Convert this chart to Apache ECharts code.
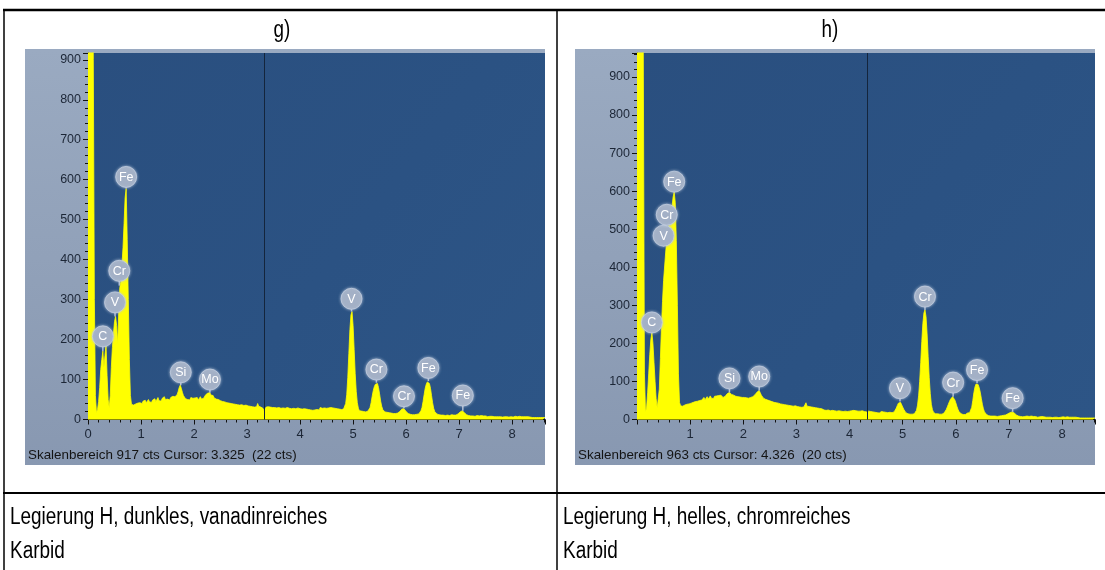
<!DOCTYPE html>
<html>
<head>
<meta charset="utf-8">
<title>EDX-Spektren Legierung H</title>
<script src="https://cdn.jsdelivr.net/npm/echarts@6/dist/echarts.min.js"></script>
<style>
  html, body { margin: 0; padding: 0; background: #ffffff; }
  #chart { width: 1105px; height: 570px; }
</style>
</head>
<body>
<div id="chart"></div>
<script>
// ---- Spectrum data: counts per 0.02 keV channel, one row per 0.5 keV ----
const channelKeV = 0.02;

// g) dark, vanadium-rich carbide
const countsG = [
  3000,3000,3000,3000,2000,900,300,60,17,25,45,80,125,150,171,130,160,187,110,50,30,60,130,180,215,
  245,258,235,188,270,330,345,385,430,490,555,578,450,300,150,60,38,33,36,34,39,37,41,38,42,
  44,40,46,43,48,42,45,50,44,47,43,49,46,52,45,48,55,47,51,46,53,49,57,50,54,
  51,56,49,55,52,58,53,57,55,62,70,80,86,78,68,60,56,52,57,50,54,49,55,51,53,
  48,54,50,55,49,52,57,51,55,53,58,62,60,66,64,67,61,58,60,54,57,51,55,50,52,
  47,50,45,48,44,47,42,45,41,44,40,43,39,42,38,41,37,40,36,41,37,39,35,38,36,
  37,34,38,33,36,32,35,31,36,32,40,33,37,31,35,28,22,27,31,28,32,29,31,28,30,
  27,30,26,29,27,30,26,28,25,29,26,28,25,30,26,28,25,27,24,28,25,27,24,29,25,
  27,24,26,23,27,24,26,23,25,28,24,26,23,27,24,29,25,27,24,30,26,28,25,29,26,
  28,25,29,26,30,27,29,26,28,25,27,24,26,23,25,24,26,30,40,62,105,165,225,262,270,
  235,175,115,70,42,28,22,19,21,18,20,17,19,18,21,22,30,42,58,72,82,88,92,90,80,
  64,46,33,25,21,19,17,18,15,17,14,16,14,15,13,15,14,16,17,20,24,26,28,27,24,
  20,17,15,14,13,14,12,13,12,14,13,15,14,18,22,30,45,62,78,88,94,96,90,78,60,
  42,28,20,16,14,13,12,13,11,12,11,12,10,12,11,12,10,11,12,10,11,12,11,13,14,
  16,19,21,22,20,17,14,12,11,10,11,9,10,9,10,8,9,10,8,9,8,10,8,9,8,
  9,8,7,9,8,7,8,9,7,8,7,9,7,8,7,8,6,8,7,9,7,8,6,8,7,
  8,6,7,8,6,7,6,8,6,7,6,7,5,7,6,7,5,6,7,5,6,5,7,5,6,
  5,6,5,6,5,6,5
];

// h) bright, chromium-rich carbide
const countsH = [
  3000,3000,3000,3000,3000,2000,900,120,20,30,70,120,170,210,228,200,150,100,55,30,35,80,160,240,310,
  365,370,440,472,455,515,505,530,560,585,598,570,470,300,120,45,36,38,35,40,38,42,40,44,41,
  46,43,48,45,50,47,52,48,53,50,55,51,54,58,52,56,60,54,57,62,56,60,55,61,58,
  62,57,63,59,64,60,58,63,61,66,68,70,71,69,66,62,64,59,61,57,60,56,59,55,58,
  54,58,53,57,52,56,54,58,55,60,62,65,68,72,75,76,70,64,60,56,58,53,55,51,53,
  49,52,47,50,45,48,44,47,43,45,41,44,40,43,39,42,38,41,37,40,36,39,35,38,36,
  37,34,36,33,35,32,36,33,38,44,35,32,34,31,33,30,32,29,31,28,30,27,29,26,28,
  27,25,28,24,27,25,26,23,26,24,27,23,25,22,25,23,26,22,24,21,24,22,25,21,23,
  22,20,23,21,24,21,23,20,22,19,22,20,23,19,21,22,20,20,22,19,21,18,20,22,19,
  21,18,20,17,19,21,18,20,17,19,16,18,17,19,16,18,17,20,24,30,37,43,47,45,40,
  33,27,22,18,16,15,16,14,15,14,16,15,18,24,38,62,100,150,205,252,280,288,270,225,165,
  110,68,40,26,19,16,15,14,15,13,14,13,14,15,17,20,26,33,40,47,53,57,60,58,52,
  44,35,27,21,17,15,14,13,14,13,15,17,16,18,20,32,50,70,85,93,95,92,84,72,56,
  40,28,20,15,13,11,10,11,9,10,9,11,9,10,8,10,9,11,10,12,11,13,12,14,15,
  16,18,19,20,19,17,14,12,10,9,10,8,9,7,9,8,7,9,7,8,7,9,7,8,6,
  8,7,6,8,7,6,8,6,7,9,6,7,6,8,6,7,5,7,6,8,6,7,5,7,6,
  6,7,5,6,5,7,5,6,5,6,4,6,5,6,4,5,6,4,5,4,6,4,5,4,5,
  4,5,4,5,4,5,4
];

// Element markers: [element, energy keV, marker height cts, peak top cts]
const peaksG = [
  ['C', 0.28, 208, 171], ['V', 0.51, 293, 258], ['Cr', 0.59, 372, 335], ['Fe', 0.72, 607, 578],
  ['Si', 1.75, 118, 86], ['Mo', 2.30, 100, 67],
  ['V', 4.97, 302, 270], ['Cr', 5.44, 125, 92], ['Cr', 5.96, 58, 28],
  ['Fe', 6.42, 129, 96], ['Fe', 7.07, 60, 22]
];
const peaksH = [
  ['C', 0.28, 255, 228], ['V', 0.50, 483, 455], ['Cr', 0.56, 538, 515], ['Fe', 0.70, 625, 598],
  ['Si', 1.74, 108, 71], ['Mo', 2.30, 113, 76],
  ['V', 4.95, 82, 47], ['Cr', 5.42, 323, 288], ['Cr', 5.95, 97, 60],
  ['Fe', 6.40, 130, 95], ['Fe', 7.07, 56, 20]
];

// Full scale, cursor position and counts at the cursor
const scaleG = 917, cursorG = 3.325, cursorCtsG = 22;
const scaleH = 963, cursorH = 4.326, cursorCtsH = 20;
const energyMax = 8.62;

const titles = ['g)', 'h)'];
const captions = [
  ['Legierung H, dunkles, vanadinreiches', 'Karbid'],
  ['Legierung H, helles, chromreiches', 'Karbid']
];

// ---- Build chart ----
const FONT = '"Liberation Sans", Arial, sans-serif';
const toPairs = counts => counts.map((c, i) => [+(i * channelKeV).toFixed(2), c]);

const panels = [
  { counts: countsG, peaks: peaksG, scale: scaleG, cursor: cursorG, cursorCts: cursorCtsG,
    gridLeft: 88, frameX: 25, showZero: true },
  { counts: countsH, peaks: peaksH, scale: scaleH, cursor: cursorH, cursorCts: cursorCtsH,
    gridLeft: 637, frameX: 575, showZero: false }
];

const PLOT_TOP = 53, PLOT_H = 366.5;
const grids = [], xAxes = [], yAxes = [], series = [], graphics = [];

const plotFill = {
  type: 'linear', x: 0, y: 0, x2: 1, y2: 1,
  colorStops: [
    { offset: 0, color: '#2a4f7f' },
    { offset: 0.55, color: '#2b5283' },
    { offset: 1, color: '#2d5586' }
  ]
};
const frameFill = {
  type: 'linear', x: 0, y: 0, x2: 0, y2: 1,
  colorStops: [
    { offset: 0, color: '#9aaac1' },
    { offset: 1, color: '#8898b1' }
  ]
};

panels.forEach((p, k) => {
  const plotW = p.frameX + 520 - p.gridLeft;
  grids.push({
    left: p.gridLeft, top: PLOT_TOP, width: plotW, height: PLOT_H,
    show: true, backgroundColor: plotFill, borderWidth: 0
  });
  xAxes.push({
    type: 'value', gridIndex: k, min: 0, max: energyMax, interval: 1,
    axisLine: { show: true, onZero: false, lineStyle: { color: '#111', width: 1 } },
    axisTick: { show: true, length: 5, lineStyle: { color: '#111' } },
    minorTick: { show: true, splitNumber: 5, length: 3, lineStyle: { color: '#111' } },
    splitLine: { show: false },
    axisLabel: { color: '#1c2636', fontSize: 13, fontFamily: FONT, margin: 8,
                 showMaxLabel: false, showMinLabel: p.showZero }
  });
  yAxes.push({
    type: 'value', gridIndex: k, min: 0, max: p.scale, interval: 100,
    axisLine: { show: true, lineStyle: { color: '#111', width: 1 } },
    axisTick: { show: true, length: 5, lineStyle: { color: '#111' } },
    minorTick: { show: true, splitNumber: 5, length: 3, lineStyle: { color: '#111' } },
    splitLine: { show: false },
    axisLabel: { color: '#1c2636', fontSize: 12.5, fontFamily: FONT, margin: 7, showMaxLabel: false }
  });

  // spectrum as a filled yellow trace
  series.push({
    type: 'line', xAxisIndex: k, yAxisIndex: k, data: toPairs(p.counts),
    symbol: 'none', clip: true, silent: true, z: 3,
    lineStyle: { color: '#ffff00', width: 0.8 },
    areaStyle: { color: '#ffff00', opacity: 1 },
    markLine: {
      symbol: 'none', silent: true, animation: false,
      label: { show: false },
      lineStyle: { color: '#14253c', width: 1, type: 'solid' },
      data: [{ xAxis: p.cursor }]
    }
  });

  // element markers: circle badge with a pin down to the peak
  const peaks = p.peaks;
  series.push({
    type: 'custom', xAxisIndex: k, yAxisIndex: k, z: 5, silent: true, clip: false,
    data: peaks.map(d => [d[1], d[2], d[3]]),
    renderItem: (params, api) => {
      const name = peaks[params.dataIndex][0];
      const c = api.coord([api.value(0), api.value(1)]);
      const t = api.coord([api.value(0), api.value(2)]);
      return {
        type: 'group',
        children: [
          { type: 'line', shape: { x1: c[0], y1: c[1] + 9, x2: t[0], y2: t[1] },
            style: { stroke: '#b4c0d4', lineWidth: 1.5 } },
          { type: 'circle', shape: { cx: c[0], cy: c[1], r: 10.5 },
            style: { fill: '#a3b0c6', stroke: 'rgba(200,210,226,0.7)', lineWidth: 1,
                     shadowBlur: 3, shadowColor: 'rgba(190,202,222,0.9)' } },
          { type: 'text', style: { text: name, x: c[0], y: c[1] + 0.5, align: 'center',
            verticalAlign: 'middle', fill: '#ffffff', font: '12.5px ' + FONT } }
        ]
      };
    }
  });

  // panel frame behind the plot
  graphics.push({
    type: 'rect', z: -10, silent: true,
    shape: { x: p.frameX, y: 49, width: 520, height: 416 },
    style: { fill: frameFill }
  });
  // faint rounded shapes in the plot background
  graphics.push({
    type: 'ellipse', z: -5, silent: true,
    shape: { cx: p.frameX + 465, cy: 215, rx: 62, ry: 85 },
    style: { fill: 'rgba(255,255,255,0.035)' }
  });
  graphics.push({
    type: 'ellipse', z: -5, silent: true,
    shape: { cx: p.frameX + 350, cy: 225, rx: 65, ry: 45 },
    style: { fill: 'rgba(255,255,255,0.025)' }
  });
  // status line under the axis
  graphics.push({
    type: 'text', z: 20, silent: true, x: p.frameX + 3, y: 455,
    style: { text: 'Skalenbereich ' + p.scale + ' cts Cursor: ' + p.cursor.toFixed(3) +
                   '  (' + p.cursorCts + ' cts)',
             fill: '#141414', font: '13.4px ' + FONT, verticalAlign: 'middle' }
  });
});

// table rules, headings and captions
const cellCentres = [282, 830];
const captionX = [10, 563];
titles.forEach((t, k) => {
  graphics.push({
    type: 'text', z: 30, silent: true, x: cellCentres[k], y: 31, scaleX: 0.82,
    style: { text: t, fill: '#000', font: '23px ' + FONT, align: 'center', verticalAlign: 'middle' }
  });
  captions[k].forEach((line, j) => {
    graphics.push({
      type: 'text', z: 30, silent: true, x: captionX[k], y: 518 + j * 34, scaleX: 0.824,
      style: { text: line, fill: '#000', font: '23px ' + FONT, align: 'left', verticalAlign: 'middle' }
    });
  });
});
const rule = (x1, y1, x2, y2, w) => graphics.push({
  type: 'line', z: 40, silent: true, shape: { x1, y1, x2, y2 },
  style: { stroke: '#000', lineWidth: w }
});
rule(3, 10, 1105, 10, 2.5);
rule(4, 10, 4, 570, 1.5);
rule(557, 10, 557, 570, 1.5);
rule(3, 493, 1105, 493, 2);

const chart = echarts.init(document.getElementById('chart'), null, { renderer: 'canvas' });
chart.setOption({
  animation: false,
  backgroundColor: '#ffffff',
  grid: grids,
  xAxis: xAxes,
  yAxis: yAxes,
  series: series,
  graphic: { elements: graphics }
});
</script>
</body>
</html>
